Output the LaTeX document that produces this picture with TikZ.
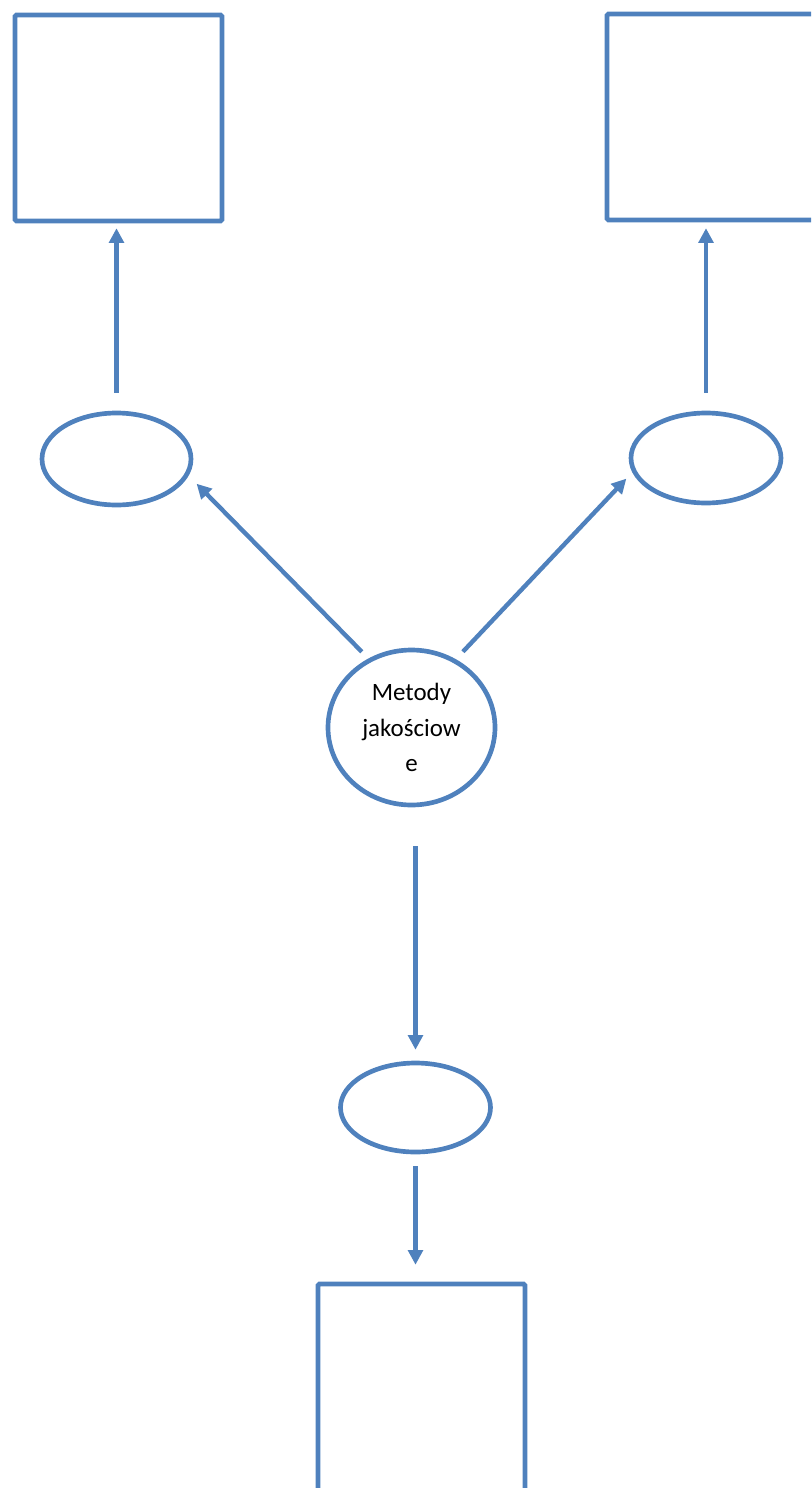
\documentclass[tikz,border=0pt]{standalone}
\usepackage{fontspec}
\newfontfamily\calibri{Carlito}
\usetikzlibrary{arrows.meta,shapes.geometric}
\definecolor{ofblue}{HTML}{4F81BD}

\begin{document}
\begin{tikzpicture}[x=0.75pt, y=-0.75pt,
    every node/.style={draw=ofblue, line width=3.5pt, inner sep=0pt},
    box/.style={rectangle, rounded corners=1pt, minimum width=155.25pt},
    oval/.style={ellipse, minimum width=112.5pt, minimum height=67.5pt},
    arr/.style={draw=ofblue, line width=3.3pt, -{Triangle[width=11pt,length=11pt]}}]
    \useasboundingbox (0,0) rectangle (811,1488);
    \clip (0,0) rectangle (811,1488);

    \node[box, minimum height=154.5pt] (tl) at (118.5,118) {};
    \node[box, minimum height=154.5pt] (tr) at (710.5,117) {};
    \node[box, minimum height=165pt] (bb) at (421.5,1394) {};

    \node[oval, minimum width=111.75pt, minimum height=69pt] (le) at (116.5,459) {};
    \node[oval] (re) at (706,458) {};
    \node[oval, minimum height=66.75pt] (be) at (415.5,1107.5) {};

    \node[ellipse, minimum width=125.25pt, minimum height=116.25pt,
          align=center, font=\calibri\fontsize{18.7pt}{26.5pt}\selectfont] (met) at (411.5,727.5)
          {Metody\\jakościow\\e};

    \draw[arr, shorten <=13.4pt, shorten >=3.7pt] (le.north) -- (le.north |- tl.south);
    \draw[arr, shorten <=13.4pt, shorten >=4.4pt] (re.north) -- (re.north |- tr.south);
    \draw[arr, shorten <=7pt, shorten >=8.5pt] (met.122) -- (le.-13);
    \draw[arr, shorten <=7.7pt, shorten >=6.5pt] (met.57) -- (re.191);
    \draw[arr, shorten <=29.2pt, shorten >=8.2pt] (be.north |- met.south) -- (be.north);
    \draw[arr, shorten <=8.9pt, shorten >=12.7pt] (be.south) -- (be.south |- bb.north);
\end{tikzpicture}
\end{document}
